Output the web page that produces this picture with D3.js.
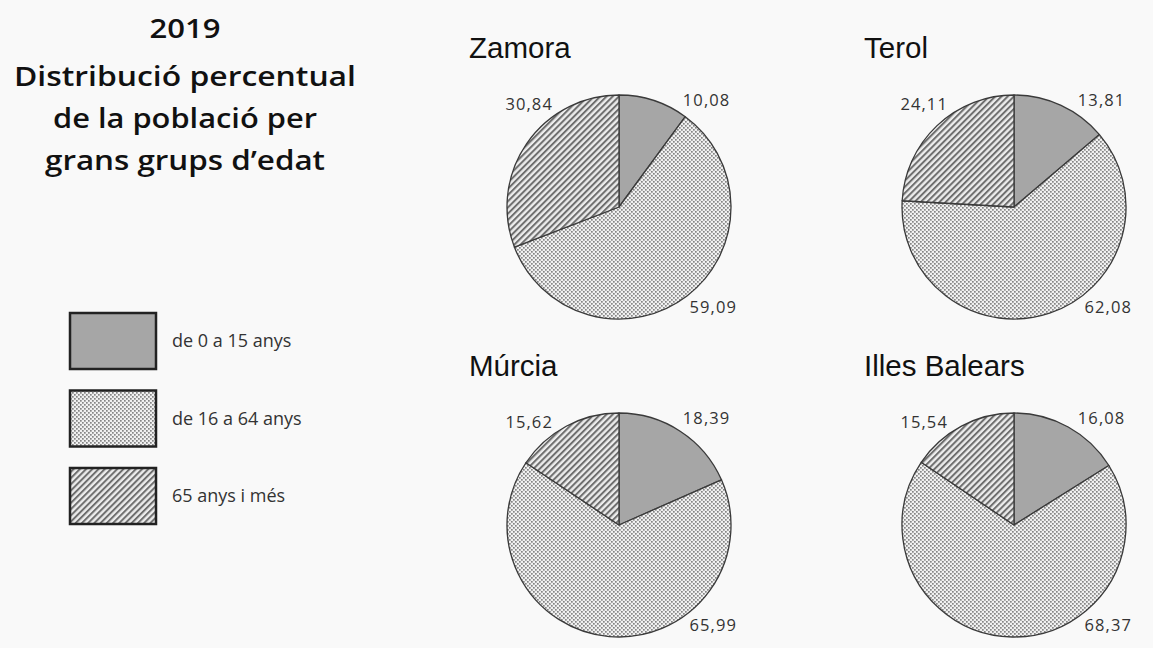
<!DOCTYPE html>
<html>
<head>
<meta charset="utf-8">
<script src="https://cdn.jsdelivr.net/npm/d3@7"></script>
<style>
  html, body { margin: 0; padding: 0; background: #f9f9f9; }
  svg { display: block; }
</style>
</head>
<body>
<svg id="chart" width="1153" height="648"></svg>
<script>
// ---------- data ----------
const regions = ["Zamora", "Terol", "Múrcia", "Illes Balears"];
const ageGroups = ["de 0 a 15 anys", "de 16 a 64 anys", "65 anys i més"];
const valZamora  = [10.08, 59.09, 30.84];
const valTerol   = [13.81, 62.08, 24.11];
const valMurcia  = [18.39, 65.99, 15.62];
const valBalears = [16.08, 68.37, 15.54];
const titleLines = ["2019", "Distribució percentual", "de la població per", "grans grups d’edat"];

const regionValues = [valZamora, valTerol, valMurcia, valBalears];

// ---------- layout ----------
const W = 1153, H = 648;
const svg = d3.select("#chart");
svg.append("rect").attr("width", W).attr("height", H).attr("fill", "#f9f9f9");

const defs = svg.append("defs");
const fills = ["#a6a6a6", "url(#dots)", "url(#hatch)"];
// dotted pattern
const dots = defs.append("pattern").attr("id", "dots")
  .attr("patternUnits", "userSpaceOnUse").attr("width", 4).attr("height", 4);
dots.append("rect").attr("width", 4).attr("height", 4).attr("fill", "#f0f0f0");
dots.append("rect").attr("x", 0).attr("y", 0).attr("width", 1.7).attr("height", 1.7).attr("fill", "#858585");
dots.append("rect").attr("x", 2).attr("y", 2).attr("width", 1.7).attr("height", 1.7).attr("fill", "#858585");
// hatch pattern "/"
const hatch = defs.append("pattern").attr("id", "hatch")
  .attr("patternUnits", "userSpaceOnUse").attr("width", 4.4).attr("height", 4.4)
  .attr("patternTransform", "rotate(45)");
hatch.append("rect").attr("width", 4.4).attr("height", 4.4).attr("fill", "#ececec");
hatch.append("rect").attr("x", 0).attr("y", 0).attr("width", 2.0).attr("height", 4.4).attr("fill", "#6e6e6e");

// ---------- title ----------
const titleWidths = [71, 342, 264, 280];
const titleBase = [38, 86, 128, 170];
const tg = svg.append("g");
titleLines.forEach((t, i) => {
  tg.append("text")
    .attr("x", 185).attr("y", titleBase[i])
    .attr("text-anchor", "middle")
    .attr("font-family", "'Open Sans', sans-serif")
    .attr("font-weight", 600)
    .attr("font-size", 27.5)
    .attr("fill", "#111")
    .attr("textLength", titleWidths[i])
    .attr("lengthAdjust", "spacingAndGlyphs")
    .text(t);
});

// ---------- legend ----------
const legY = d3.scalePoint().domain(ageGroups).range([313, 468]);
const lg = svg.append("g");
ageGroups.forEach((g, i) => {
  const y = legY(g);
  lg.append("rect")
    .attr("x", 70).attr("y", y).attr("width", 86).attr("height", 56)
    .attr("fill", fills[i]).attr("stroke", "#222").attr("stroke-width", 2.5);
  lg.append("text")
    .attr("x", 172).attr("y", y + 34)
    .attr("font-family", "'Open Sans', sans-serif")
    .attr("font-size", 18)
    .attr("fill", "#333")
    .text(g);
});

// ---------- pies ----------
const r = 112;
const colX = d3.scalePoint().domain([0, 1]).range([619, 1014]);
const rowY = d3.scalePoint().domain([0, 1]).range([207, 525]);
const pie = d3.pie().sort(null).value(d => d);
const arc = d3.arc().innerRadius(0).outerRadius(r);
const locale = d3.formatLocale({decimal: ",", thousands: ".", grouping: [3], currency: ["", "€"]});
const fmt = locale.format(".2f");

// label spots (relative to pie radius): [dx, dy, anchor]
const labelSpots = [
  [0.57, -0.90, "start"],
  [0.63, 0.95, "start"],
  [-0.59, -0.87, "end"]
];

regions.forEach((name, k) => {
  const cx = colX(k % 2), cy = rowY(Math.floor(k / 2));
  const g = svg.append("g").attr("transform", `translate(${cx},${cy})`);
  const arcs = pie(regionValues[k]);
  g.selectAll("path").data(arcs).join("path")
    .attr("d", arc)
    .attr("fill", (d, i) => fills[i])
    .attr("stroke", "#3a3a3a")
    .attr("stroke-width", 1.3)
    .attr("stroke-linejoin", "round");
  g.selectAll("text.val").data(arcs).join("text")
    .attr("class", "val")
    .attr("x", (d, i) => labelSpots[i][0] * r)
    .attr("y", (d, i) => labelSpots[i][1] * r)
    .attr("text-anchor", (d, i) => labelSpots[i][2])
    .attr("font-family", "'Open Sans', sans-serif")
    .attr("font-size", 16.5)
    .attr("letter-spacing", 1.1)
    .attr("fill", "#333")
    .text(d => fmt(d.data));
  g.append("text")
    .attr("x", -150).attr("y", -149)
    .attr("font-family", "'Liberation Sans', Arial, sans-serif")
    .attr("font-size", 29.5)
    .attr("fill", "#111")
    .text(name);
});
</script>
</body>
</html>
